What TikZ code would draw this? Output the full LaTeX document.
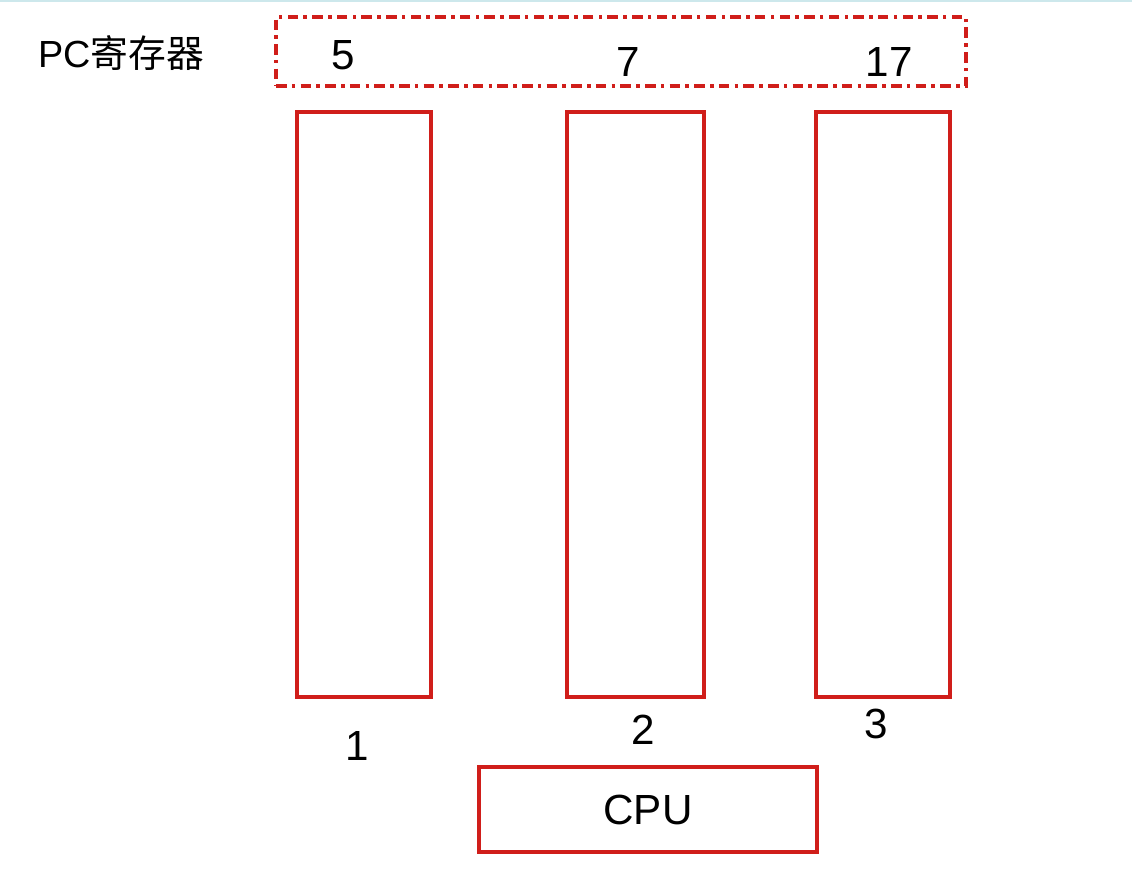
\documentclass[tikz,border=0pt]{standalone}
\usepackage{fontspec}
\setmainfont{Liberation Sans}
\newfontfamily\cjk{Noto Sans CJK SC}
\definecolor{memred}{RGB}{208,30,26}
\definecolor{topline}{RGB}{205,232,236}

\begin{document}
\begin{tikzpicture}[x=0.02cm,y=-0.02cm,
		bank/.style={draw=memred,line width=2pt,minimum width=2.68cm,minimum height=11.7cm,inner sep=0pt},
		numtext/.style={font=\fontsize{24}{28}\selectfont},
		pcbox/.style={draw=memred,line width=2pt,dash pattern=on 6pt off 3pt on 2pt off 3pt}]
		
		\useasboundingbox (0,0) rectangle (1132,872);
		\draw[topline,line width=1.5pt] (0,1) to (1132,1);
		
		% PC register
		\node[font=\fontsize{21.5}{26}\selectfont] (pclabel) at (121,53) {PC{\cjk 寄存器}};
		\node[pcbox,minimum width=13.8cm,minimum height=1.38cm,inner sep=0pt] (pc) at (621,51.5) {};
		\node[numtext] (pc1) at (343,55) {5};
		\node[numtext] (pc2) at (628,62) {7};
		\node[numtext] (pc3) at (889,62) {17};
		
		% memory banks
		\node[bank] (bank1) at (364,404.5) {};
		\node[bank,minimum width=2.74cm] (bank2) at (635.5,404.5) {};
		\node[bank] (bank3) at (883,404.5) {};
		\node[numtext] (num1) at (357,746) {1};
		\node[numtext] (num2) at (643,730) {2};
		\node[numtext] (num3) at (876,724) {3};
		
		% cpu
		\node[draw=memred,line width=2pt,minimum width=6.76cm,minimum height=1.7cm,inner sep=0pt,numtext] (cpu) at (648,809.5) {CPU};
		
	\end{tikzpicture}
\end{document}
